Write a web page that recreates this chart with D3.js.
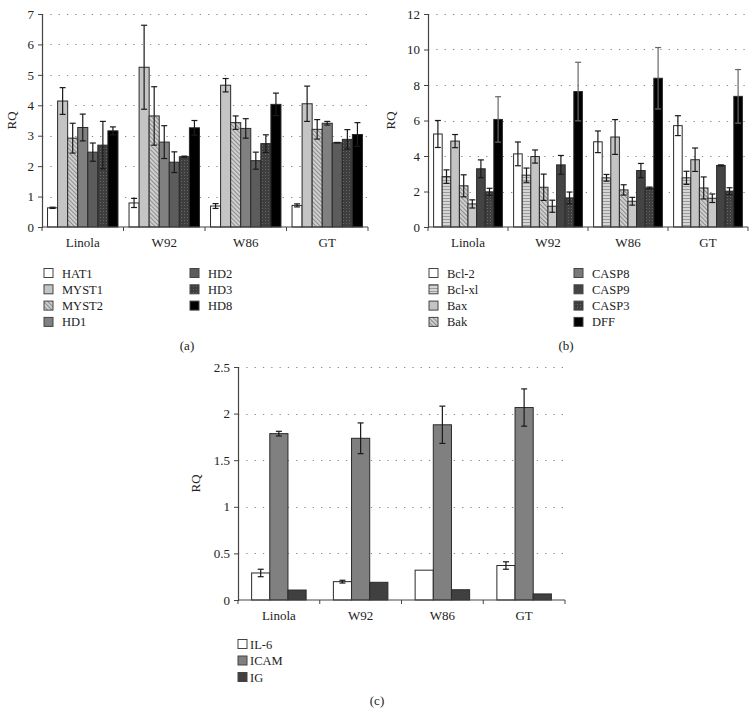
<!DOCTYPE html>
<html><head><meta charset="utf-8">
<script src="https://cdn.jsdelivr.net/npm/d3@7"></script>
<style>
body{margin:0;background:#fff;}
svg text{font-family:"Liberation Serif","Times New Roman",serif;fill:#222;}
</style></head>
<body><svg id="chart" width="756" height="714"></svg>
<script>
// ---------- DATA ----------
const categories = ["Linola", "W92", "W86", "GT"];

// Panel (a)
const seriesA = ["HAT1", "MYST1", "MYST2", "HD1", "HD2", "HD3", "HD8"];
const valuesA = [
  [0.63, 0.79, 0.69, 0.71],
  [4.14, 5.25, 4.66, 4.05],
  [2.92, 3.65, 3.43, 3.21],
  [3.27, 2.79, 3.24, 3.41],
  [2.46, 2.13, 2.18, 2.77],
  [2.69, 2.31, 2.74, 2.88],
  [3.16, 3.26, 4.03, 3.04]
];
const errA = [
  [0.02, 0.15, 0.08, 0.05],
  [0.44, 1.38, 0.22, 0.58],
  [0.49, 0.96, 0.22, 0.32],
  [0.44, 0.54, 0.32, 0.06],
  [0.30, 0.34, 0.28, 0.01],
  [0.78, 0.02, 0.29, 0.32],
  [0.13, 0.24, 0.37, 0.39]
];
const ticksA = [0, 1, 2, 3, 4, 5, 6, 7];

// Panel (b)
const seriesB = ["Bcl-2", "Bcl-xl", "Bax", "Bak", "CASP8", "CASP9", "CASP3", "DFF"];
const valuesB = [
  [5.24, 4.12, 4.80, 5.71],
  [2.84, 2.92, 2.77, 2.77],
  [4.84, 3.97, 5.07, 3.79],
  [2.32, 2.24, 2.09, 2.20],
  [1.30, 1.17, 1.45, 1.62],
  [3.28, 3.50, 3.18, 3.47],
  [1.98, 1.64, 2.20, 2.02],
  [6.06, 7.63, 8.38, 7.36]
];
const errB = [
  [0.76, 0.67, 0.61, 0.56],
  [0.38, 0.40, 0.19, 0.37],
  [0.37, 0.37, 0.98, 0.66],
  [0.62, 0.74, 0.29, 0.62],
  [0.23, 0.34, 0.22, 0.24],
  [0.50, 0.53, 0.40, 0.03],
  [0.20, 0.33, 0.05, 0.19],
  [1.28, 1.65, 1.73, 1.51]
];
const ticksB = [0, 2, 4, 6, 8, 10, 12];

// Panel (c)
const seriesC = ["IL-6", "ICAM", "IG"];
const valuesC = [
  [0.29, 0.197, 0.32, 0.37],
  [1.785, 1.735, 1.88, 2.065],
  [0.107, 0.19, 0.11, 0.065]
];
const errC = [
  [0.04, 0.015, 0, 0.04],
  [0.025, 0.165, 0.2, 0.2],
  [0, 0, 0, 0]
];
const ticksC = [0, 0.5, 1, 1.5, 2, 2.5];
const tickLabelsC = ["0", "0.5", "1", "1.5", "2", "2.5"];

// ---------- STYLE ----------
const svg = d3.select("#chart");
const defs = svg.append("defs");

// diagonal hatch ("\\" direction)
const ph = defs.append("pattern").attr("id", "hatch").attr("patternUnits", "userSpaceOnUse")
  .attr("width", 3).attr("height", 3).attr("patternTransform", "rotate(-45)");
ph.append("rect").attr("width", 3).attr("height", 3).attr("fill", "#d2d2d2");
ph.append("rect").attr("x", 0).attr("width", 1.1).attr("height", 3).attr("fill", "#8e8e8e");
// horizontal stripes
const ps = defs.append("pattern").attr("id", "hstripe").attr("patternUnits", "userSpaceOnUse")
  .attr("width", 4).attr("height", 3);
ps.append("rect").attr("width", 4).attr("height", 3).attr("fill", "#d6d6d6");
ps.append("rect").attr("y", 0).attr("width", 4).attr("height", 1).attr("fill", "#9a9a9a");
// dotted dark
const pd = defs.append("pattern").attr("id", "dots").attr("patternUnits", "userSpaceOnUse")
  .attr("width", 3).attr("height", 3);
pd.append("rect").attr("width", 3).attr("height", 3).attr("fill", "#3e3e3e");
pd.append("rect").attr("x", 1).attr("y", 1).attr("width", 1).attr("height", 1).attr("fill", "#666666");

const fillsA = ["#ffffff", "#c4c4c4", "url(#hatch)", "#808080", "#5c5c5c", "url(#dots)", "#000000"];
const fillsB = ["#ffffff", "url(#hstripe)", "#c4c4c4", "url(#hatch)", "#c8c8c8", "#444444", "url(#dots)", "#000000"];
const legendFillsB = ["#ffffff", "url(#hstripe)", "#c4c4c4", "url(#hatch)", "#7a7a7a", "#444444", "url(#dots)", "#000000"];
const fillsC = ["#ffffff", "#808080", "#404040"];

function drawPanel(cfg) {
  const g = svg.append("g");
  const x0 = d3.scaleBand().domain(categories).range([cfg.x0, cfg.x1]).paddingInner(0).paddingOuter(0);
  const x1 = d3.scaleBand().domain(cfg.series).range([0, x0.bandwidth()]).paddingOuter(cfg.pad);
  const y = d3.scaleLinear().domain([0, cfg.ymax]).range([cfg.y0, cfg.y1]);

  // gridlines
  g.selectAll(".grid").data(cfg.ticks.filter(t => t > 0)).enter().append("line")
    .attr("x1", cfg.x0).attr("x2", cfg.x1)
    .attr("y1", d => Math.round(y(d)) + 0.5).attr("y2", d => Math.round(y(d)) + 0.5)
    .attr("stroke", "#8a8a8a").attr("stroke-width", 1.2).attr("stroke-dasharray", "1.3,7");

  // bars
  cfg.series.forEach((s, i) => {
    const sg = g.append("g");
    categories.forEach((c, j) => {
      const v = cfg.values[i][j];
      const bx = x0(c) + x1(s);
      const bw = x1.bandwidth();
      sg.append("rect").attr("x", bx).attr("y", y(v)).attr("width", bw).attr("height", y(0) - y(v))
        .attr("fill", cfg.fills[i]).attr("stroke", "#2a2a2a").attr("stroke-width", 1);
      const e = cfg.err[i][j];
      if (e > 0) {
        const cx = bx + bw / 2, cw = cfg.cap;
        const ec = (i === cfg.series.length - 1 && cfg.blackLast) ? "#666" : "#1a1a1a";
        sg.append("line").attr("x1", cx).attr("x2", cx).attr("y1", y(v + e)).attr("y2", y(v - e))
          .attr("stroke", ec).attr("stroke-width", 1.2);
        [v + e, v - e].forEach(t => {
          sg.append("line").attr("x1", cx - cw).attr("x2", cx + cw).attr("y1", y(t)).attr("y2", y(t))
            .attr("stroke", ec).attr("stroke-width", 1.2);
        });
      }
    });
  });

  // y axis
  const yAxis = d3.axisLeft(y).tickValues(cfg.ticks).tickSize(4).tickPadding(4)
    .tickFormat((d, i) => cfg.tickLabels ? cfg.tickLabels[i] : d3.format("d")(d));
  const ya = g.append("g").attr("transform", `translate(${cfg.x0},0)`).call(yAxis);
  ya.attr("font-family", null);
  ya.select(".domain").attr("stroke", "#444").attr("stroke-width", 1.2);
  ya.selectAll(".tick line").attr("stroke", "#444");
  ya.selectAll(".tick text").style("font-size", "13px").attr("fill", "#222");

  // x axis
  const xa = g.append("g").attr("transform", `translate(0,${cfg.y0})`);
  xa.append("line").attr("x1", cfg.x0).attr("x2", cfg.x1).attr("y1", 0).attr("y2", 0)
    .attr("stroke", "#444").attr("stroke-width", 1.2);
  const bounds = categories.map(c => x0(c)).concat([cfg.x1]);
  xa.selectAll(".bt").data(bounds).enter().append("line")
    .attr("x1", d => d).attr("x2", d => d).attr("y1", 0).attr("y2", 4).attr("stroke", "#444");
  xa.selectAll(".cl").data(categories).enter().append("text")
    .attr("x", d => x0(d) + x0.bandwidth() / 2).attr("y", 20)
    .attr("text-anchor", "middle").style("font-size", "13px").text(d => d);

  // y label
  g.append("text").attr("transform", `translate(${cfg.ylabX},${(cfg.y0 + cfg.y1) / 2}) rotate(-90)`)
    .attr("text-anchor", "middle").style("font-size", "13px").text("RQ");

  // legend
  cfg.series.forEach((s, i) => {
    const col = Math.floor(i / cfg.legRows), row = i % cfg.legRows;
    const lx = cfg.legX[col], ly = cfg.legY + row * cfg.legDy;
    g.append("rect").attr("x", lx).attr("y", ly - 4.5).attr("width", 9).attr("height", 9)
      .attr("fill", (cfg.legendFills || cfg.fills)[i]).attr("stroke", "#444").attr("stroke-width", 1);
    g.append("text").attr("x", lx + cfg.legTxt).attr("y", ly + 4.5).style("font-size", "12.5px").text(s);
  });

  g.append("text").attr("x", cfg.capX).attr("y", cfg.capY).attr("text-anchor", "middle")
    .style("font-size", "13px").text(cfg.caption);
}

drawPanel({
  series: seriesA, values: valuesA, err: errA, fills: fillsA, ticks: ticksA, ymax: 7,
  x0: 42, x1: 368, y0: 227, y1: 14, pad: 0.55, cap: 3,
  ylabX: 16, legRows: 4, legX: [44, 190], legTxt: 18, legY: 273, legDy: 16.3,
  caption: "(a)", capX: 187, capY: 350
});
drawPanel({
  series: seriesB, values: valuesB, err: errB, fills: fillsB, legendFills: legendFillsB, ticks: ticksB, ymax: 12,
  x0: 428, x1: 748, y0: 227, y1: 14, pad: 0.65, cap: 3, blackLast: true,
  ylabX: 395, legRows: 4, legX: [429, 574], legTxt: 18, legY: 273, legDy: 16.3,
  caption: "(b)", capX: 566, capY: 350
});
drawPanel({
  series: seriesC, values: valuesC, err: errC, fills: fillsC, ticks: ticksC, tickLabels: tickLabelsC, ymax: 2.5,
  x0: 238, x1: 565, y0: 600, y1: 367, pad: 0.75, cap: 3,
  ylabX: 200, legRows: 3, legX: [238], legTxt: 12, legY: 644, legDy: 16.5,
  caption: "(c)", capX: 377, capY: 705
});
</script></body></html>
